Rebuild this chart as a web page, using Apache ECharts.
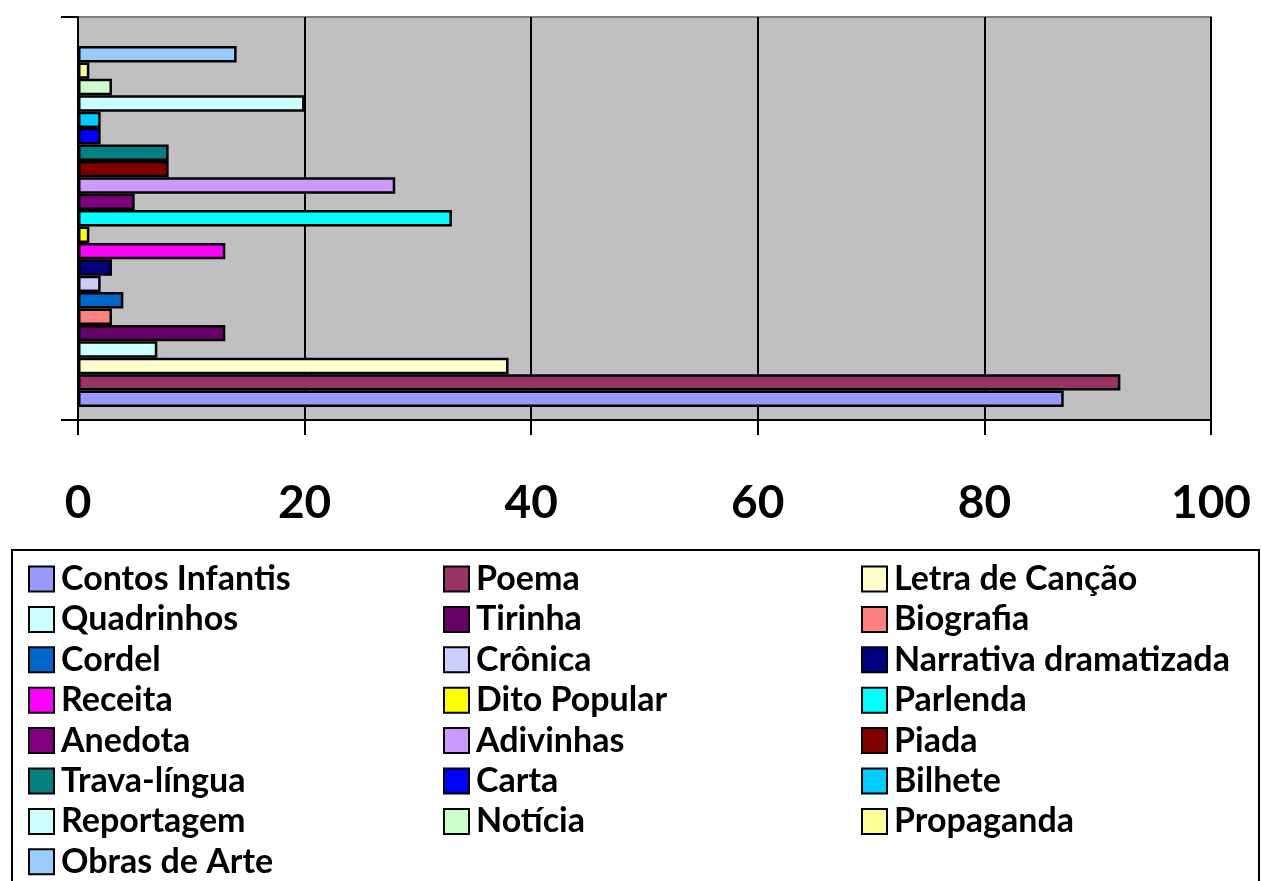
<!DOCTYPE html>
<html>
<head>
<meta charset="utf-8">
<script src="https://cdn.jsdelivr.net/npm/echarts@6/dist/echarts.min.js"></script>
<style>
  html, body { margin: 0; padding: 0; background: #fff; }
  #chart { width: 1261px; height: 881px; }
</style>
</head>
<body>
<div id="chart"></div>
<script>
// generos textuais, na ordem da legenda (de baixo para cima no gráfico)
const generos = [
  'Contos Infantis', 'Poema', 'Letra de Canção', 'Quadrinhos', 'Tirinha', 'Biografia',
  'Cordel', 'Crônica', 'Narrativa dramatizada', 'Receita', 'Dito Popular', 'Parlenda',
  'Anedota', 'Adivinhas', 'Piada', 'Trava-língua', 'Carta', 'Bilhete',
  'Reportagem', 'Notícia', 'Propaganda', 'Obras de Arte'
];
const valores = [87, 92, 38, 7, 13, 3, 4, 2, 3, 13, 1, 33, 5, 28, 8, 8, 2, 2, 20, 3, 1, 14];
const cores = [
  '#9999FF', '#993366', '#FFFFCC', '#CCFFFF', '#660066', '#FF8080',
  '#0066CC', '#CCCCFF', '#000080', '#FF00FF', '#FFFF00', '#00FFFF',
  '#800080', '#CC99FF', '#800000', '#008080', '#0000FF', '#00CCFF',
  '#CCFFFF', '#CCFFCC', '#FFFF99', '#99CCFF'
];
const xTicks = [0, 20, 40, 60, 80, 100];

const chart = echarts.init(document.getElementById('chart'));
const fonte = 'Lato, "Open Sans", sans-serif';

// barras num segundo grid (sem eixos visiveis), um pouco deslocado como no Excel
// echarts empilha a 1a serie no topo, entao inverte a lista
const series = generos.map((nome, i) => ({
  name: nome,
  type: 'bar',
  xAxisIndex: 1,
  yAxisIndex: 1,
  data: [valores[i]],
  barGap: '0%',
  barCategoryGap: '10%',
  itemStyle: { color: cores[i], borderColor: '#000', borderWidth: 2.5 },
  emphasis: { disabled: true },
})).reverse();

const colunas = [28, 443, 861];
const legends = colunas.map((left, c) => ({
  orient: 'vertical',
  left: left,
  top: 562,
  height: 330,
  padding: 0,
  icon: 'rect',
  itemWidth: 25,
  itemHeight: 25,
  itemGap: 6.4,
  selectedMode: false,
  data: generos.filter((_, i) => i % 3 === c),
  textStyle: {
    fontFamily: fonte, fontWeight: 'bold', fontSize: 34, color: '#000',
    padding: [0, 0, 0, 2],
  },
}));

chart.setOption({
  animation: false,
  grid: [
    {
      left: 78, right: 50, top: 17, bottom: 461,
      show: true, backgroundColor: '#C0C0C0', borderColor: '#808080', borderWidth: 2,
    },
    { left: 78, right: 50, top: 26, bottom: 454 },
  ],
  legend: legends,
  graphic: [{
    type: 'rect',
    shape: { x: 12, y: 550, width: 1247, height: 340 },
    style: { fill: 'none', stroke: '#000', lineWidth: 2 },
    z: -1,
  }],
  xAxis: [
    {
      type: 'value',
      gridIndex: 0,
      min: xTicks[0],
      max: xTicks[xTicks.length - 1],
      interval: 20,
      axisLine: { show: true, lineStyle: { color: '#000', width: 2 } },
      axisTick: { show: true, length: 15, lineStyle: { color: '#000', width: 2 } },
      splitLine: { show: true, lineStyle: { color: '#000', width: 2 } },
      axisLabel: { fontFamily: fonte, fontWeight: 'bold', fontSize: 46, color: '#000', margin: 60 },
    },
    {
      type: 'value',
      gridIndex: 1,
      min: xTicks[0],
      max: xTicks[xTicks.length - 1],
      show: false,
    },
  ],
  yAxis: [
    {
      type: 'category',
      gridIndex: 0,
      data: [''],
      axisLine: { show: true, lineStyle: { color: '#000', width: 2 } },
      axisTick: { show: true, length: 17, lineStyle: { color: '#000', width: 2 } },
      axisLabel: { show: false },
    },
    {
      type: 'category',
      gridIndex: 1,
      data: [''],
      show: false,
    },
  ],
  series: series,
});
</script>
</body>
</html>
